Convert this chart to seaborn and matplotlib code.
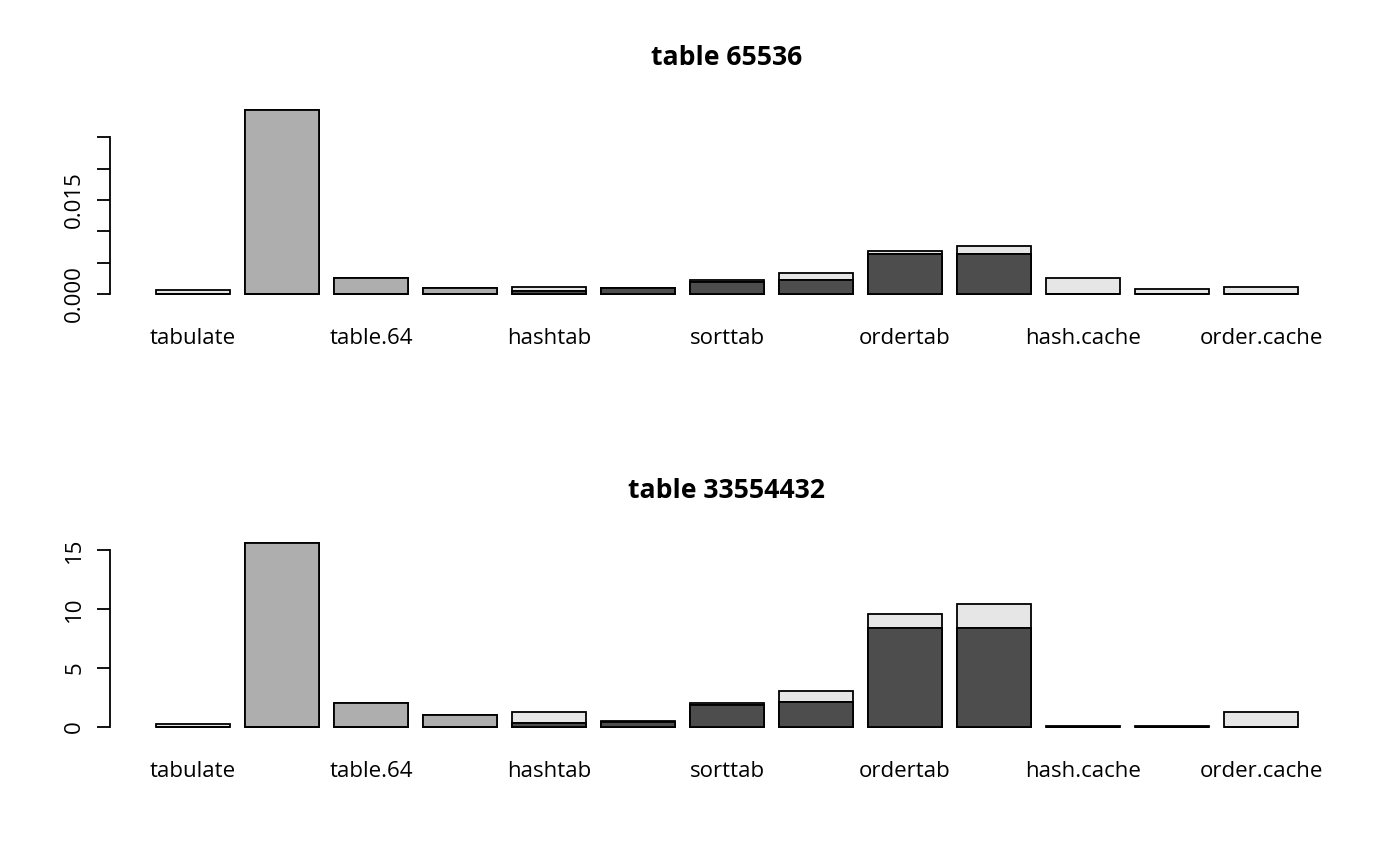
import numpy as np
import pandas as pd
import seaborn as sns
import matplotlib
matplotlib.use("Agg")
import matplotlib.pyplot as plt

# methods (only every second name fits under the bars)
methods = ["tabulate", "table", "table.64", "hashmaptab", "hashtab", "hashtab2",
           "sorttab", "sortordertab", "ordertab", "ordertabkeep",
           "hash.cache", "sort.cache", "order.cache"]
shown_labels = ["tabulate", "", "table.64", "", "hashtab", "", "sorttab", "",
                "ordertab", "", "hash.cache", "", "order.cache"]

# table 65536 (seconds): stacked dark / mid / light parts
small_dark = [0, 0, 0, 0, 0.0005, 0.0009, 0.0020, 0.00224, 0.00634, 0.00634, 0, 0, 0]
small_mid = [0, 0.0294, 0.0026, 0.0010, 0, 0, 0, 0, 0, 0, 0, 0, 0]
small_light = [0.0006, 0, 0, 0, 0.0007, 0.0001, 0.0002, 0.0011, 0.0005, 0.0013, 0.0025, 0.0008, 0.00117]

# table 33554432 (seconds)
big_dark = [0, 0, 0, 0, 0.34, 0.42, 1.90, 2.12, 8.35, 8.35, 0, 0, 0]
big_mid = [0, 15.62, 2.07, 1.05, 0, 0, 0, 0, 0, 0, 0, 0, 0]
big_light = [0.28, 0, 0, 0, 0.93, 0.08, 0.11, 0.91, 1.19, 2.04, 0.06, 0.06, 1.25]

titles = ["table 65536", "table 33554432"]
yticks_small = [0, 0.005, 0.010, 0.015, 0.020, 0.025]
ylabels_small = ["0.000", "", "", "0.015", "", ""]
yticks_big = [0, 5, 10, 15]
ylabels_big = ["0", "5", "10", "15"]

# R gray.colors(3)
part_colors = ["#4D4D4D", "#AEAEAE", "#E6E6E6"]

sns.set_style("white")
plt.rcParams["font.family"] = ["Open Sans", "DejaVu Sans"]
plt.rcParams["text.color"] = "black"
plt.rcParams["xtick.color"] = "black"
plt.rcParams["ytick.color"] = "black"
plt.rcParams["axes.edgecolor"] = "black"

fig = plt.figure(figsize=(14, 8.66), dpi=100)
W, H = 1400, 866
panels = [
    (small_dark, small_mid, small_light, yticks_small, ylabels_small, 102.5),
    (big_dark, big_mid, big_light, yticks_big, ylabels_big, 535.4),
]

for k, (dark, mid, light, yt, yl, top_px) in enumerate(panels):
    ax = fig.add_axes([110.3 / W, 1 - (top_px + 198.9) / H, 1233.4 / W, 198.9 / H])
    df = pd.DataFrame({"method": methods, "dark": dark, "mid": mid, "light": light})
    df["c1"] = df["dark"]
    df["c2"] = df["dark"] + df["mid"]
    df["c3"] = df["c2"] + df["light"]
    # draw from the tallest cumulative layer down so the stack shows through
    for col, colr in zip(["c3", "c2", "c1"], part_colors[::-1]):
        sns.barplot(data=df, x="method", y=col, color=colr, saturation=1,
                    edgecolor="black", linewidth=1.3, width=1 / 1.2, ax=ax)
    ymax = df["c3"].max()
    ax.set_ylim(-0.04 * ymax, 1.04 * ymax)
    ax.set_xlim(-0.93, 12.93)
    ax.set_xlabel("")
    ax.set_ylabel("")
    ax.set_xticks(range(len(methods)))
    ax.set_xticklabels(shown_labels, fontsize=16, color="black")
    ax.set_yticks(yt)
    ax.set_yticklabels(yl, fontsize=16, rotation=90, va="center", color="black")
    ax.tick_params(axis="x", length=0, pad=19)
    ax.tick_params(axis="y", length=9.5, width=1.3, pad=8.5, left=True,
                   direction="out", color="black")
    for s in ["top", "right", "bottom"]:
        ax.spines[s].set_visible(False)
    ax.spines["left"].set_bounds(yt[0], yt[-1])
    ax.spines["left"].set_linewidth(1.3)
    ax.spines["left"].set_color("black")
    ax.set_title(titles[k], fontsize=19.2, fontweight="bold", pad=27, color="black")

fig.savefig("out.png", dpi=100)
